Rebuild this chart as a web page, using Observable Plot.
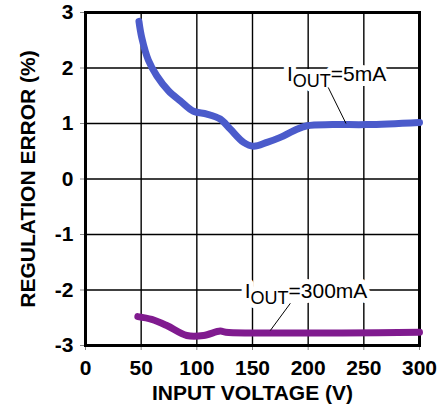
<!DOCTYPE html>
<html>
<head>
<meta charset="utf-8">
<script src="https://cdn.jsdelivr.net/npm/d3@7"></script>
<script src="https://cdn.jsdelivr.net/npm/@observablehq/plot@0.6"></script>
<style>
  html, body { margin: 0; padding: 0; background: #fff; }
</style>
</head>
<body>
<div id="chart"></div>
<script>
// ---- data ----
const xTicks = [0, 50, 100, 150, 200, 250, 300];
const yTicks = [-3, -2, -1, 0, 1, 2, 3];
const xGrid = [50, 100, 150, 200, 250];
const yGrid = [-2, -1, 0, 1, 2];

const vin5mA = [48, 50.5, 56.5, 64, 74.5, 85, 97, 109, 121, 130, 142, 151, 163, 175, 187, 199, 222, 253, 300];
const err5mA = [2.84, 2.55, 2.14, 1.86, 1.59, 1.41, 1.22, 1.17, 1.08, 0.90, 0.66, 0.59, 0.66, 0.75, 0.87, 0.96, 0.98, 0.98, 1.02];

const vin300mA = [47, 59.5, 73, 91, 106, 121, 126, 300];
const err300mA = [-2.48, -2.53, -2.64, -2.82, -2.82, -2.74, -2.76, -2.76];

const labelMain = ["I", "I"];
const labelSub = ["OUT", "OUT"];
const labelRest = ["=5mA", "=300mA"];
const labelX = [181, 143];
const labelY = [1.89, -2.02];
const leaderX1 = [218, 184];
const leaderY1 = [1.65, -2.24];
const leaderX2 = [234, 166];
const leaderY2 = [1.0, -2.73];

const xTitle = "INPUT VOLTAGE (V)";
const yTitle = "REGULATION ERROR (%)";

// ---- tables ----
const s5 = vin5mA.map((v, i) => ({x: v, y: err5mA[i]}));
const s300 = vin300mA.map((v, i) => ({x: v, y: err300mA[i]}));
const labels = labelMain.map((m, i) => ({x: labelX[i], y: labelY[i], text: m + labelSub[i] + labelRest[i]}));
const leaders = leaderX1.map((v, i) => ({x1: v, y1: leaderY1[i], x2: leaderX2[i], y2: leaderY2[i]}));

const font = "'Liberation Sans', Arial, Helvetica, sans-serif";
const fmt = d => String(d);

const plot = Plot.plot({
  width: 446,
  height: 412,
  marginLeft: 85,
  marginRight: 27,
  marginTop: 12,
  marginBottom: 67,
  style: {fontFamily: font, fontSize: "21px", fontWeight: "bold", color: "black", background: "white"},
  x: {domain: [0, 300]},
  y: {domain: [-3, 3]},
  marks: [
    Plot.gridX(xGrid, {stroke: "black", strokeOpacity: 1, strokeWidth: 1.4}),
    Plot.gridY(yGrid, {stroke: "black", strokeOpacity: 1, strokeWidth: 1.4}),
    Plot.axisX(xTicks, {tickSize: 5, tickPadding: 10, stroke: "#888", strokeWidth: 1, fontSize: 21, fontWeight: "bold", fill: "black", label: null, tickFormat: fmt}),
    Plot.axisY(yTicks, {tickSize: 5, tickPadding: 7, stroke: "#888", strokeWidth: 1, fontSize: 21, fontWeight: "bold", fill: "black", label: null, tickFormat: fmt}),
    Plot.frame({stroke: "black", strokeWidth: 3}),
    Plot.line(s5, {x: "x", y: "y", stroke: "#4b5bcb", strokeWidth: 7, curve: "catmull-rom"}),
    Plot.line(s300, {x: "x", y: "y", stroke: "#801b8f", strokeWidth: 7, curve: "catmull-rom"}),
    Plot.text(labels, {x: "x", y: "y", text: "text", textAnchor: "start", fontSize: 21, fontWeight: "normal", fill: "white", stroke: "white", strokeWidth: 10, className: "callout-halo"}),
    Plot.text(labels, {x: "x", y: "y", text: "text", textAnchor: "start", fontSize: 21, fontWeight: "normal", fill: "black", className: "callout"}),
    Plot.link(leaders, {x1: "x1", y1: "y1", x2: "x2", y2: "y2", stroke: "black", strokeWidth: 1}),
    Plot.text([xTitle], {frameAnchor: "bottom", dy: 48, lineAnchor: "middle", textAnchor: "middle", fontSize: 21, fontWeight: "bold", fill: "black"}),
    Plot.text([yTitle], {frameAnchor: "left", dx: -57, rotate: -90, lineAnchor: "middle", textAnchor: "middle", fontSize: 21, fontWeight: "bold", fill: "black"})
  ]
});

// subscripts in the callouts
d3.select(plot).selectAll(".callout text, .callout-halo text").each(function(_, j) {
  const i = j % labelMain.length;
  const t = d3.select(this);
  t.text(null);
  t.append("tspan").text(labelMain[i]);
  t.append("tspan").attr("font-size", 18).attr("dy", 6).text(labelSub[i]);
  t.append("tspan").attr("dy", -6).text(labelRest[i]);
});

document.getElementById("chart").appendChild(plot);
</script>
</body>
</html>
